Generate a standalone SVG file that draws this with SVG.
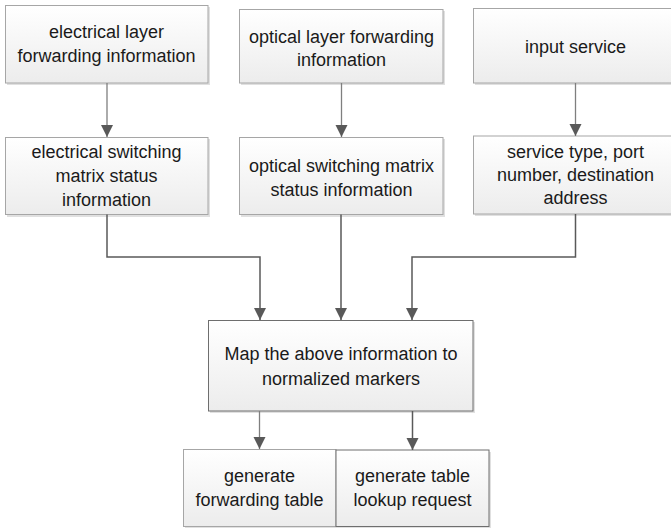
<svg xmlns="http://www.w3.org/2000/svg" width="671" height="528" viewBox="0 0 671 528">
<defs>
<linearGradient id="g" x1="0" y1="0" x2="0" y2="1">
<stop offset="0" stop-color="#ffffff"/>
<stop offset="1" stop-color="#ececec"/>
</linearGradient>
<marker id="ah" markerWidth="12" markerHeight="14" refX="12" refY="6" orient="auto" markerUnits="userSpaceOnUse">
<path d="M0,0 L12,6 L0,12 Z" fill="#595959"/>
</marker>
</defs>
<style>
.box{fill:url(#g);stroke:#a6a6a6;stroke-width:1}
.sh{fill:#e0e0e0;stroke:none}
.dk{stroke:#6e6e6e}
text{font-family:"Liberation Sans",Arial,sans-serif;font-size:18px;fill:#1a1a1a;text-anchor:middle;dominant-baseline:central}
.c{fill:none;stroke:#595959;stroke-width:1.5}
.cl{fill:none;stroke:#7f7f7f;stroke-width:1.3}
</style>
<g id="n1">
<rect class="sh" x="7" y="7" width="203" height="78"/>
<rect class="box" x="5.5" y="5.5" width="202.5" height="77.5"/>
<text x="106.5" y="31.5">electrical layer</text>
<text x="106.5" y="56">forwarding information</text>
</g>
<g id="n2">
<rect class="sh" x="7" y="139" width="203" height="78"/>
<rect class="box" x="5.5" y="137.5" width="202.5" height="77"/>
<text x="106.5" y="152">electrical switching</text>
<text x="106.5" y="175.5">matrix status</text>
<text x="106.5" y="199.5">information</text>
</g>
<g id="n3">
<rect class="sh" x="241" y="11" width="204" height="74"/>
<rect class="box" x="239.5" y="9.5" width="203.5" height="73.5"/>
<text x="341.5" y="36.5">optical layer forwarding</text>
<text x="341.5" y="60">information</text>
</g>
<g id="n4">
<rect class="sh" x="241" y="139" width="204" height="78"/>
<rect class="box" x="239.5" y="137.5" width="203.5" height="77"/>
<text x="341.5" y="166">optical switching matrix</text>
<text x="341.5" y="189.5">status information</text>
</g>
<g id="n5">
<rect class="sh" x="475" y="10" width="200" height="75"/>
<rect class="box" x="473.5" y="8.5" width="200" height="74.5"/>
<text x="575.5" y="46.5">input service</text>
</g>
<g id="n6">
<rect class="sh" x="475" y="138" width="200" height="78"/>
<rect class="box" x="473.5" y="136" width="200" height="78"/>
<text x="575.5" y="151.5">service type, port</text>
<text x="575.5" y="174.5">number, destination</text>
<text x="575.5" y="198">address</text>
</g>
<g id="n7">
<rect class="sh" x="210" y="322" width="265" height="91"/>
<rect class="box dk" x="208.5" y="320.5" width="264.5" height="90.5"/>
<text x="341" y="353.5">Map the above information to</text>
<text x="341" y="379">normalized markers</text>
</g>
<g id="n8">
<rect class="sh" x="185" y="450" width="153" height="78"/>
<rect class="box" x="183.5" y="449.5" width="152.5" height="77"/>
<text x="259.5" y="475.5">generate</text>
<text x="259.5" y="500">forwarding table</text>
</g>
<g id="n9">
<rect class="sh" x="338" y="452" width="153" height="76"/>
<rect class="box dk" x="336" y="450" width="153" height="76.5"/>
<text x="412.5" y="475.5">generate table</text>
<text x="412.5" y="500">lookup request</text>
</g>
<g id="connectors">
<path class="cl" d="M107 83 V137" marker-end="url(#ah)"/>
<path class="cl" d="M341.5 83 V137" marker-end="url(#ah)"/>
<path class="cl" d="M575.5 83 V136" marker-end="url(#ah)"/>
<path class="c" d="M107 214.5 V257 H260 V320" marker-end="url(#ah)"/>
<path class="c" d="M341 214.5 V320" marker-end="url(#ah)"/>
<path class="c" d="M575.5 214 V257 H412 V320" marker-end="url(#ah)"/>
<path class="cl" d="M259.5 411 V449" marker-end="url(#ah)"/>
<path class="c" d="M412.5 411 V450" marker-end="url(#ah)"/>
</g>
</svg>
